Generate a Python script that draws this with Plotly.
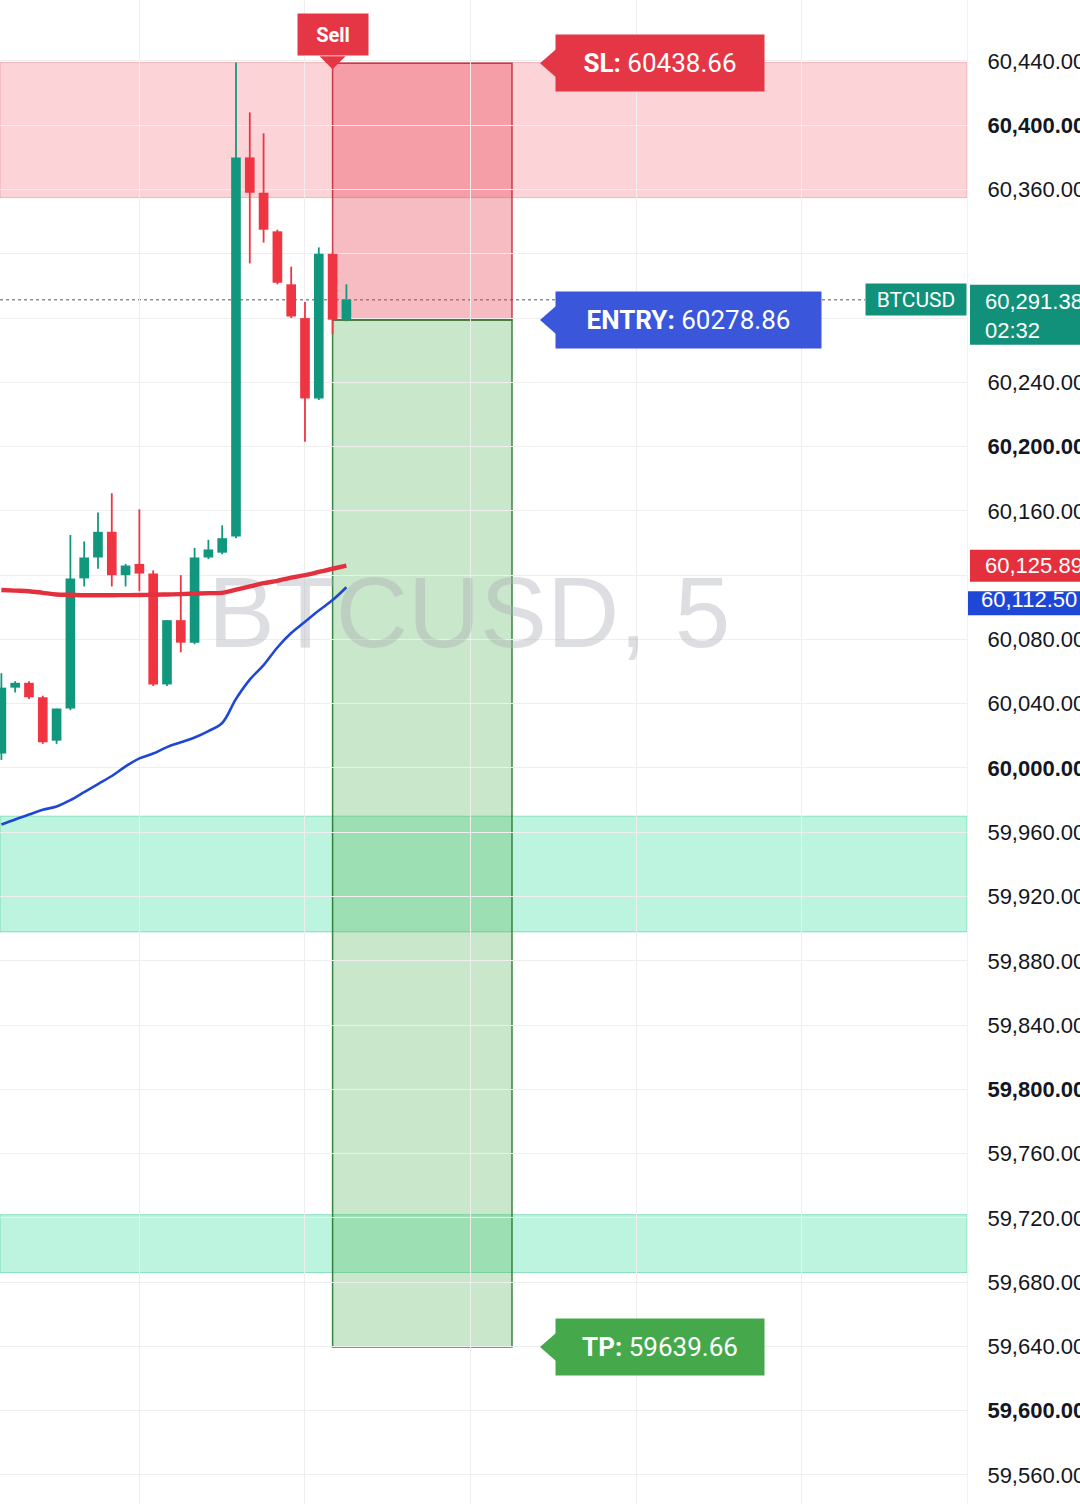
import plotly.graph_objects as go

# ---------------- data ----------------
idx = list(range(26))
opens  = [60009, 60050, 60053, 60044, 60017, 60037, 60118, 60131, 60147, 60120,
          60127, 60121, 60052, 60092, 60078, 60131, 60134, 60144, 60380, 60358,
          60334, 60301, 60280, 60230, 60320, 60279]
highs  = [60059, 60054, 60054, 60045, 60037, 60145, 60141, 60159, 60171, 60127,
          60161, 60123, 60092, 60120, 60137, 60142, 60151, 60439, 60408, 60395,
          60335, 60312, 60290, 60324, 60321, 60301]
lows   = [60005, 60047, 60043, 60015, 60015, 60036, 60113, 60124, 60113, 60113,
          60110, 60051, 60051, 60072, 60077, 60130, 60133, 60143, 60314, 60327,
          60301, 60280, 60203, 60229, 60270, 60278]
closes = [60050, 60053, 60044, 60016, 60037, 60118, 60131, 60147, 60120, 60126,
          60121, 60052, 60092, 60078, 60131, 60136, 60143, 60380, 60358, 60335,
          60302, 60281, 60230, 60320, 60279, 60291.38]

ma_red  = [60110.8, 60110.4, 60110.0, 60109.0, 60108.0, 60107.8, 60107.5, 60107.5,
           60107.5, 60107.6, 60107.7, 60107.8, 60108.0, 60108.2, 60108.5, 60108.8,
           60109.0, 60111.0, 60113.0, 60115.0, 60116.5, 60118.5, 60120.0, 60122.0,
           60124.0, 60125.89]
ma_blue = [59964.8, 59968.0, 59971.0, 59974.0, 59976.0, 59980.0, 59985.0, 59990.0,
           59995.0, 60001.0, 60006.0, 60009.0, 60013.0, 60016.0, 60019.0, 60023.0,
           60028.0, 60043.0, 60055.0, 60064.0, 60075.0, 60084.0, 60091.0, 60098.0,
           60104.5, 60112.5]

symbol_label = "BTCUSD"
watermark = "BTCUSD, 5"
clock_text = "02:32"

entry_index = 24
position_end_index = 37
entry_price = 60278.86
stop_loss = 60438.66
take_profit = 59639.66

supply_zone = (60355, 60439)
demand_zones = [(59898, 59970), (59686, 59722)]

y_ticks = list(range(59560, 60481, 40))

# ---------------- styles ----------------
GREEN = "#12977f"
RED = "#ef3442"
TEAL = "#12917a"
W, H = 1080, 1504
MR = 113
PLOT_W = W - MR

fig = go.Figure()

# watermark (drawn first, below everything else)
fig.add_trace(go.Scatter(
    x=[33.9], y=[60091], mode="text", text=[watermark],
    textfont=dict(size=100, color="rgba(170,172,180,0.40)", family="Liberation Sans"),
    hoverinfo="skip", showlegend=False))

# candle wicks
for col in (GREEN, RED):
    wx, wy = [], []
    for i, o, h, l, c in zip(idx, opens, highs, lows, closes):
        if (GREEN if c >= o else RED) == col:
            wx += [i, i, None]
            wy += [l, h, None]
    fig.add_trace(go.Scatter(x=wx, y=wy, mode="lines", line=dict(color=col, width=1.8),
                             hoverinfo="skip", showlegend=False))

# candle bodies
body_base = [min(o, c) for o, c in zip(opens, closes)]
body_h = [max(abs(c - o), 1.2) for o, c in zip(opens, closes)]
colors = [GREEN if c >= o else RED for o, c in zip(opens, closes)]
fig.add_trace(go.Bar(x=idx, y=body_h, base=body_base, width=0.7,
                     marker=dict(color=colors, line=dict(width=0)),
                     hoverinfo="skip", showlegend=False))

# moving averages
fig.add_trace(go.Scatter(x=idx, y=ma_blue, mode="lines",
                         line=dict(color="#1f47d6", width=2.6, shape="spline"),
                         hoverinfo="skip", showlegend=False))
fig.add_trace(go.Scatter(x=idx, y=ma_red, mode="lines",
                         line=dict(color="#e3303c", width=4.4, shape="spline"),
                         hoverinfo="skip", showlegend=False))

shapes = []
# supply zone
shapes.append(dict(type="rect", xref="paper", x0=0, x1=1, yref="y",
                   y0=supply_zone[0], y1=supply_zone[1],
                   fillcolor="rgba(242,54,69,0.21)", line=dict(color="rgba(220,120,130,0.45)", width=1),
                   layer="below"))
for z0, z1 in demand_zones:
    shapes.append(dict(type="rect", xref="paper", x0=0, x1=1, yref="y", y0=z0, y1=z1,
                       fillcolor="rgba(38,220,150,0.3)", line=dict(color="rgba(60,200,140,0.5)", width=1),
                       layer="below"))
# position box
shapes.append(dict(type="rect", xref="x", x0=entry_index, x1=position_end_index, yref="y",
                   y0=entry_price, y1=stop_loss, fillcolor="rgba(230,50,70,0.33)",
                   line=dict(color="rgba(190,35,50,0.85)", width=1.5), layer="below"))
shapes.append(dict(type="rect", xref="x", x0=entry_index, x1=position_end_index, yref="y",
                   y0=take_profit, y1=entry_price, fillcolor="rgba(76,175,80,0.3)",
                   line=dict(color="rgba(40,120,50,0.9)", width=1.5), layer="below"))
# last price dotted line
shapes.append(dict(type="line", xref="paper", x0=0, x1=1 - 102 / PLOT_W, yref="y",
                   y0=closes[-1], y1=closes[-1], line=dict(color="#8b8f99", width=1.6, dash="dot"),
                   layer="below"))

# label pointers (notches)
for level, col in ((stop_loss, "#e53645"), (entry_price, "#3a57dc"), (take_profit, "#45a94c")):
    shapes.append(dict(type="path", xref="x", xsizemode="pixel", xanchor=position_end_index,
                       yref="y", ysizemode="pixel", yanchor=level,
                       path="M 28,0 L 44,14 L 44,-14 Z", fillcolor=col, line=dict(width=0)))
# sell pointer
shapes.append(dict(type="path", xref="x", xsizemode="pixel", xanchor=entry_index,
                   yref="y", ysizemode="pixel", yanchor=stop_loss,
                   path="M -13,7 L 13,7 L 0,-6 Z", fillcolor="#e53645", line=dict(width=0)))

# axis price-label backgrounds (pixel-sized, anchored to the price levels)
def axis_box(level, col, top, bottom, left=3):
    return dict(type="rect", xref="paper", xsizemode="pixel", xanchor=1, x0=left, x1=130,
                yref="y", ysizemode="pixel", yanchor=level, y0=-bottom, y1=top,
                fillcolor=col, line=dict(width=0), layer="above")

shapes.append(axis_box(closes[-1], TEAL, 15, 45))
shapes.append(axis_box(ma_red[-1], "#e3303c", 16, 16))
shapes.append(axis_box(ma_blue[-1], "#1f47d6", -4, 28, left=1))

annotations = []
lab_font = dict(family="Roboto", size=26, color="white")
for text, level, col, w in ((f"<b>SL:</b> {stop_loss:.2f}", stop_loss, "#e53645", 208),
                            (f"<b>ENTRY:</b> {entry_price:.2f}", entry_price, "#3a57dc", 265),
                            (f"<b>TP:</b> {take_profit:.2f}", take_profit, "#45a94c", 208)):
    annotations.append(dict(x=position_end_index, xref="x", xanchor="left", xshift=43,
                            y=level, yref="y", yanchor="middle", text=text, showarrow=False,
                            bgcolor=col, width=w, height=56, borderpad=0, font=lab_font,
                            align="center", valign="middle"))
annotations.append(dict(x=entry_index, xref="x", xanchor="center", y=stop_loss, yref="y",
                        yanchor="bottom", yshift=7, text="<b>Sell</b>", showarrow=False,
                        bgcolor="#e53645", width=70, height=41, borderpad=0,
                        font=dict(family="Roboto", size=20, color="white")))
annotations.append(dict(x=1, xref="paper", xanchor="right", y=closes[-1], yref="y",
                        yanchor="middle", text=symbol_label, showarrow=False,
                        bgcolor=TEAL, width=100, height=31, borderpad=0,
                        font=dict(family="Roboto", size=21, color="white")))
ax_font = dict(family="Liberation Sans", size=22, color="white")
annotations.append(dict(x=1, xref="paper", xanchor="left", xshift=16, y=closes[-1], yref="y",
                        yanchor="top", yshift=13, text=f"{closes[-1]:,.2f}<br>{clock_text}",
                        showarrow=False, align="left", font=ax_font))
annotations.append(dict(x=1, xref="paper", xanchor="left", xshift=16, y=ma_red[-1], yref="y",
                        yanchor="middle", text=f"{ma_red[-1]:,.2f}", showarrow=False,
                        align="left", font=ax_font))
annotations.append(dict(x=1, xref="paper", xanchor="left", xshift=12, y=ma_blue[-1], yref="y",
                        yanchor="middle", yshift=-12, text=f"{ma_blue[-1]:,.2f}", showarrow=False,
                        align="left", font=ax_font))

# tick labels hidden behind the axis price tags
covered = [closes[-1], ma_red[-1]]
tick_text = []
for v in y_ticks:
    if any(abs(v - c) < 30 for c in covered):
        tick_text.append("")
    elif v % 200 == 0:
        tick_text.append(f"<b>{v:,.2f}</b>")
    else:
        tick_text.append(f"{v:,.2f}")

fig.update_layout(
    width=W, height=H, margin=dict(l=0, r=MR, t=0, b=0, autoexpand=False),
    paper_bgcolor="white", plot_bgcolor="white",
    barmode="overlay", showlegend=False,
    shapes=shapes, annotations=annotations,
    xaxis=dict(range=[-0.1, 69.97], tick0=10, dtick=12, showticklabels=False,
               showgrid=True, gridcolor="#eeeeee", gridwidth=1, zeroline=False,
               showline=False, fixedrange=True, automargin=False),
    yaxis=dict(side="right", range=[59541.94, 60477.96], tickmode="array",
               tickvals=y_ticks, ticktext=tick_text, ticks="", ticklabelstandoff=15,
               tickfont=dict(family="Liberation Sans", size=22, color="#131722"),
               showgrid=True, gridcolor="#eeeeee", gridwidth=1, zeroline=False,
               showline=True, linecolor="#f2f2f2", linewidth=1, fixedrange=True,
               automargin=False),
)

fig.write_html("out.html")
